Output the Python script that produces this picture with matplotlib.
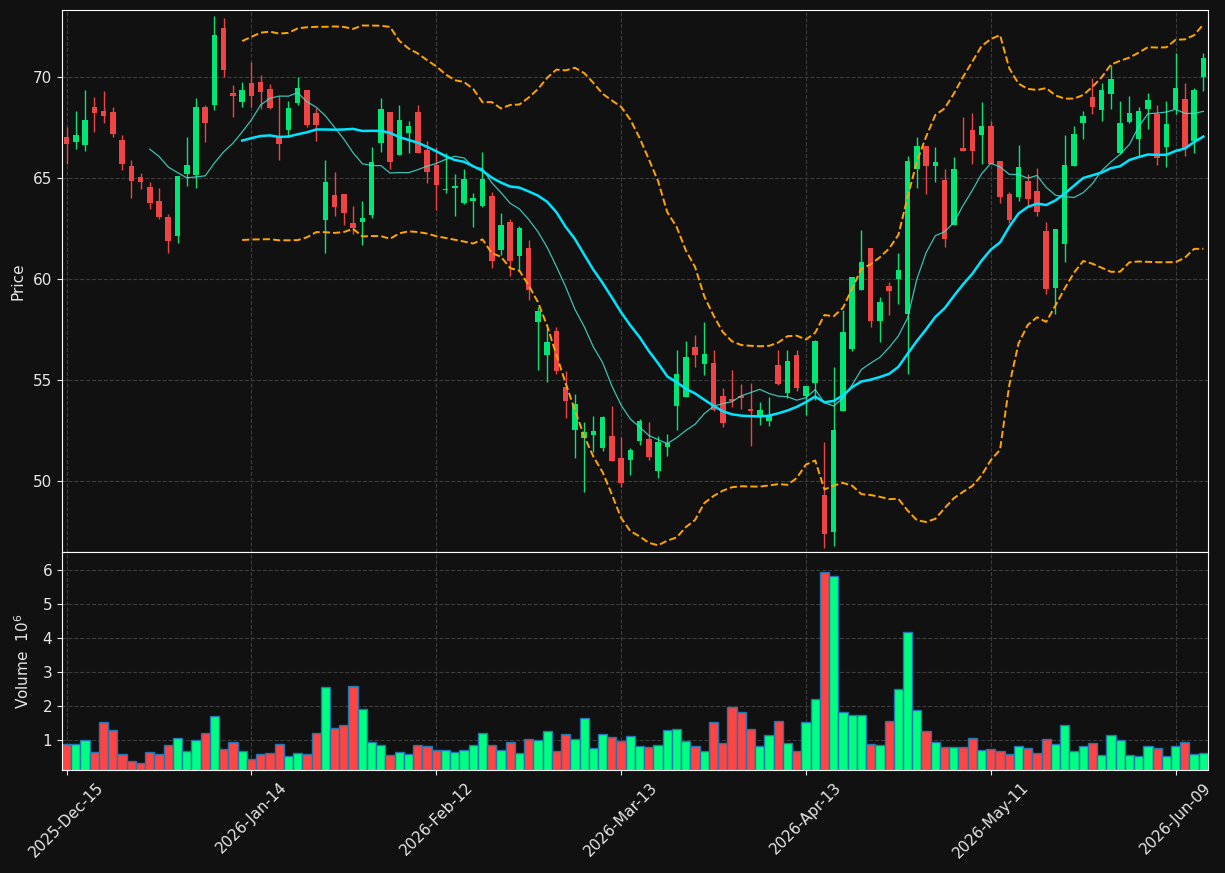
import numpy as np
import pandas as pd
import matplotlib
matplotlib.use('Agg')
import matplotlib.pyplot as plt

# daily OHLC (index = trading day)
opens = [67.05, 66.80, 66.67, 68.53, 68.33, 68.28, 66.90, 65.61, 65.07, 64.57,
         63.88, 63.09, 62.15, 65.23, 65.17, 68.53, 68.63, 72.44, 69.22, 68.78,
         69.72, 69.77, 69.42, 67.06, 67.40, 68.74, 69.37, 68.25, 62.95, 64.17,
         64.22, 62.79, 62.85, 63.20, 66.76, 68.28, 66.17, 67.26, 68.28, 66.40,
         65.66, 64.40, 64.54, 63.78, 63.89, 63.65, 64.12, 61.45, 62.84, 61.17,
         61.55, 57.91, 56.26, 57.44, 54.67, 52.56, 52.16, 52.31, 51.67, 52.25,
         51.16, 51.07, 52.01, 52.09, 50.53, 51.71, 53.74, 54.19, 56.65, 55.82,
         55.86, 54.22, 54.07, 54.22, 53.60, 53.23, 53.00, 55.76, 54.39, 56.25,
         54.22, 54.88, 49.32, 47.51, 53.50, 56.55, 59.49, 61.55, 57.95, 59.67,
         60.01, 58.30, 65.44, 66.60, 65.63, 64.92, 62.69, 66.50, 67.39, 67.14,
         67.59, 65.86, 64.22, 64.09, 64.87, 64.35, 62.39, 59.59, 61.76, 65.63,
         67.75, 69.01, 68.40, 69.19, 66.25, 67.80, 66.96, 68.43, 68.20, 66.57,
         68.41, 68.93, 66.86, 70.03]
highs = [67.52, 68.32, 69.36, 69.01, 69.31, 68.51, 67.13, 65.89, 65.25, 64.80,
         64.50, 63.23, 65.12, 67.05, 68.96, 68.63, 73.04, 72.94, 69.60, 69.77,
         70.75, 70.11, 69.67, 69.09, 68.84, 70.00, 69.37, 68.50, 65.90, 65.29,
         64.22, 63.63, 63.86, 66.53, 68.96, 68.28, 68.61, 67.84, 68.61, 66.85,
         66.56, 66.24, 65.20, 65.48, 64.27, 66.29, 64.30, 63.27, 62.97, 62.64,
         61.95, 58.65, 57.58, 57.66, 55.45, 54.31, 52.94, 53.24, 53.24, 53.73,
         52.20, 51.63, 53.07, 52.92, 52.26, 52.36, 56.48, 56.93, 57.23, 57.87,
         56.48, 54.60, 55.49, 54.80, 54.88, 53.94, 54.19, 56.48, 56.48, 56.48,
         54.72, 57.00, 51.93, 55.67, 58.48, 60.11, 62.44, 61.55, 59.14, 59.85,
         61.29, 66.10, 67.06, 66.60, 66.53, 65.44, 66.07, 68.02, 68.22, 68.76,
         67.84, 65.86, 64.30, 66.65, 65.20, 65.49, 62.84, 62.49, 67.13, 67.59,
         68.33, 69.98, 69.70, 70.61, 68.81, 69.06, 68.51, 69.21, 68.61, 68.83,
         71.18, 69.70, 69.45, 71.18]
lows = [65.71, 66.47, 66.34, 67.31, 67.76, 67.06, 65.40, 64.01, 64.46, 63.50,
        63.00, 61.32, 61.78, 64.64, 64.54, 66.82, 68.37, 70.00, 68.05, 68.51,
        68.55, 68.41, 68.41, 65.89, 67.03, 68.64, 67.54, 66.83, 61.28, 63.11,
        62.67, 62.22, 61.68, 63.02, 66.28, 65.44, 66.17, 66.23, 66.23, 64.75,
        63.44, 64.26, 63.15, 63.71, 62.57, 63.56, 60.54, 61.20, 60.18, 60.46,
        58.98, 55.51, 54.90, 55.30, 53.12, 51.14, 49.46, 51.43, 51.51, 51.01,
        49.73, 50.31, 51.78, 51.04, 50.15, 51.24, 52.52, 54.19, 55.64, 55.28,
        53.46, 52.70, 53.69, 53.56, 51.73, 52.80, 52.75, 54.77, 54.11, 54.45,
        53.27, 54.02, 46.68, 46.81, 53.50, 56.47, 59.49, 57.62, 56.88, 58.22,
        58.76, 55.30, 64.50, 64.21, 64.80, 61.62, 62.69, 66.37, 65.69, 65.71,
        65.69, 63.76, 62.80, 63.89, 63.60, 63.15, 59.26, 58.27, 60.84, 65.63,
        66.93, 68.17, 67.82, 68.41, 66.20, 67.75, 66.12, 67.42, 65.67, 65.54,
        68.17, 66.11, 66.24, 69.32]
closes = [66.72, 67.13, 67.89, 68.23, 68.09, 67.19, 65.71, 64.87, 64.82, 63.78,
          63.09, 61.91, 65.12, 65.66, 68.53, 67.74, 72.10, 70.36, 69.08, 69.37,
          69.08, 69.27, 68.46, 66.71, 68.48, 69.47, 67.65, 67.65, 64.81, 63.59,
          63.30, 62.52, 63.04, 65.81, 68.43, 65.82, 67.89, 67.59, 66.27, 65.33,
          64.67, 64.48, 64.62, 64.97, 64.02, 64.97, 60.92, 62.69, 60.92, 62.54,
          59.47, 58.42, 56.90, 55.46, 53.99, 53.83, 52.44, 52.51, 53.19, 51.01,
          49.93, 51.55, 52.99, 51.22, 51.95, 51.88, 55.31, 56.14, 56.25, 56.30,
          53.53, 52.90, 53.96, 54.12, 53.50, 53.53, 53.23, 54.82, 55.96, 54.62,
          54.72, 56.95, 47.39, 52.54, 57.39, 60.11, 60.86, 57.95, 58.86, 59.44,
          60.46, 65.86, 66.62, 65.63, 65.81, 62.01, 65.46, 66.37, 66.37, 67.59,
          65.69, 64.09, 62.94, 65.56, 63.99, 63.35, 59.54, 62.49, 65.66, 67.19,
          68.08, 68.55, 69.37, 69.92, 67.74, 68.22, 68.33, 68.88, 66.02, 67.69,
          69.47, 66.48, 69.37, 70.96]
# volume in millions
volumes = [0.87, 0.87, 0.99, 0.64, 1.52, 1.29, 0.58, 0.38, 0.34, 0.64,
           0.58, 0.85, 1.05, 0.67, 0.99, 1.20, 1.70, 0.75, 0.93, 0.69,
           0.43, 0.58, 0.61, 0.87, 0.53, 0.61, 0.58, 1.20, 2.56, 1.34,
           1.44, 2.59, 1.91, 0.93, 0.85, 0.55, 0.64, 0.58, 0.85, 0.82,
           0.70, 0.70, 0.64, 0.70, 0.85, 1.21, 0.85, 0.70, 0.94, 0.61,
           1.03, 1.00, 1.26, 0.67, 1.18, 1.03, 1.65, 0.76, 1.18, 1.09,
           0.97, 1.12, 0.82, 0.79, 0.85, 1.29, 1.32, 0.97, 0.82, 0.67,
           1.53, 0.91, 1.98, 1.83, 1.32, 0.82, 1.16, 1.56, 0.91, 0.67,
           1.53, 2.22, 5.94, 5.82, 1.83, 1.74, 1.74, 0.88, 0.85, 1.56,
           2.51, 4.19, 1.89, 1.26, 0.94, 0.79, 0.79, 0.79, 1.06, 0.70,
           0.73, 0.67, 0.58, 0.82, 0.76, 0.61, 1.03, 0.88, 1.44, 0.67,
           0.82, 0.91, 0.55, 1.15, 1.00, 0.55, 0.52, 0.82, 0.76, 0.52,
           0.82, 0.94, 0.58, 0.61]
holidays = ['2025-12-25', '2026-01-01', '2026-01-19', '2026-02-16',
            '2026-04-03', '2026-05-25']

BG = '#111111'
UP, DOWN = '#00e676', '#ef4444'
VUP, VDOWN = '#00ff80', '#ff4444'
TXT = '#e6e6e6'

df = pd.DataFrame({'open': opens, 'high': highs, 'low': lows,
                   'close': closes, 'volume': volumes})
df.index = pd.bdate_range('2025-12-15', periods=len(df), freq='C',
                          holidays=holidays)
x = np.arange(len(df))
up = (df['close'] >= df['open']).values

ma10 = df['close'].rolling(10).mean()
ma20 = df['close'].rolling(20).mean()
sd20 = df['close'].rolling(20).std(ddof=0)
bb_up, bb_lo = ma20 + 2 * sd20, ma20 - 2 * sd20

fig = plt.figure(figsize=(12.25, 8.73), dpi=100, facecolor=BG)
ax = fig.add_axes([0.0506, 0.3677, 0.9355, 0.6208], facecolor=BG)
axv = fig.add_axes([0.0506, 0.1180, 0.9355, 0.2497], facecolor=BG, sharex=ax)

# candles
ax.vlines(x, df['low'], df['high'], colors=np.where(up, UP, DOWN), lw=1, zorder=2)
body = (df['close'] - df['open']).abs().clip(lower=0.06)
ax.bar(x, body, bottom=np.minimum(df['open'], df['close']), width=0.6,
       color=np.where(up, UP, DOWN), zorder=3)

ax.plot(x, ma10, color='#40e0d0', lw=0.9, alpha=0.85, zorder=4)
ax.plot(x, ma20, color='#00e5ff', lw=1.8, zorder=4)
ax.plot(x, bb_up, color='#ffa500', lw=1.4, ls='--', zorder=4)
ax.plot(x, bb_lo, color='#ffa500', lw=1.4, ls='--', zorder=4)

axv.bar(x, df['volume'], width=1.0, color=np.where(up, VUP, VDOWN),
        edgecolor='#1f77b4', linewidth=1.0, zorder=2)

ax.set_xlim(-0.5, len(df) - 0.5)
ax.set_ylim(46.5, 73.33)
axv.set_ylim(0.12, 6.53)
ax.set_yticks([50, 55, 60, 65, 70])
axv.set_yticks([1, 2, 3, 4, 5, 6])

ticks = x[::20]
axv.set_xticks(ticks)
axv.set_xticklabels([d.strftime('%Y-%b-%d') for d in df.index[ticks]],
                    rotation=45, ha='center')
ax.tick_params(axis='x', which='both', bottom=False, labelbottom=False)

for a in (ax, axv):
    a.grid(True, color='#3c3c3c', ls='--', lw=0.8)
    a.set_axisbelow(True)
    a.tick_params(colors=TXT, labelsize=11)
    for s in a.spines.values():
        s.set_color('white')

ax.set_ylabel('Price', color=TXT, fontsize=11)
axv.set_ylabel('Volume  $10^{6}$', color=TXT, fontsize=11)
ax.yaxis.set_label_coords(-0.032, 0.5)
axv.yaxis.set_label_coords(-0.026, 0.5)

fig.savefig('out.png', dpi=100, facecolor=BG)
